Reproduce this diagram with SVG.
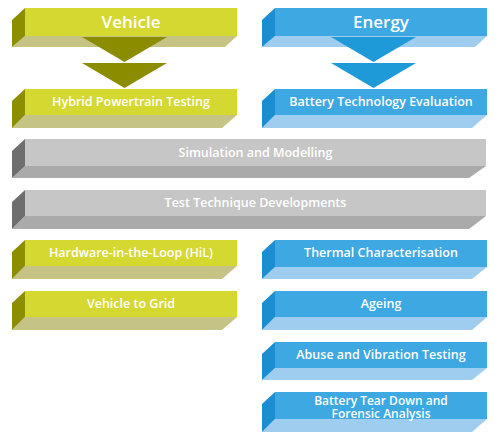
<svg xmlns="http://www.w3.org/2000/svg" width="500" height="442" viewBox="0 0 500 442">
<style>
.vf{fill:#d6d832}.vs{fill:#8d8d00}.vb{fill:#c6c485}
.ef{fill:#3ea8e2}.es{fill:#1a8ed0}.eb{fill:#9ecdf0}
.gf{fill:#c6c6c6}.gs{fill:#6e6e6e}.gb{fill:#aaaaaa}
.va{fill:#8c8c00}.ea{fill:#1e9ad8}
text{font-family:"Open Sans","Noto Sans","Liberation Sans",sans-serif;font-weight:600;fill:#ffffff;text-anchor:middle;font-size:12.5px}
.big{font-size:17px}
.two{font-size:12px}
</style>
<rect width="500" height="442" fill="#ffffff"/>
<g id="vehicle">
<polygon class="vb" points="25,36 237,36 225,47 12,47"/>
<polygon class="vs" points="25,8 12,20 12,47 25,36"/>
<rect class="vf" x="25" y="8" width="212" height="28"/>
<text class="big" x="131" y="28">Vehicle</text>
</g>
<g id="energy">
<polygon class="eb" points="275,36 487,36 475,47 262,47"/>
<polygon class="es" points="275,8 262,20 262,47 275,36"/>
<rect class="ef" x="275" y="8" width="212" height="28"/>
<text class="big" x="381" y="28">Energy</text>
</g>
<g id="connectors">
<polygon class="va" points="82,37 167,37 124.5,62"/>
<polygon class="va" points="82,63 167,63 124.5,88"/>
<polygon class="ea" points="331,37 416,37 373.5,62"/>
<polygon class="ea" points="331,63 416,63 373.5,88"/>
</g>
<g id="hybrid">
<polygon class="vb" points="25,115 237,115 222,128 12,128"/>
<polygon class="vs" points="25,89 12,101 12,128 25,115"/>
<rect class="vf" x="25" y="89" width="212" height="26"/>
<text x="131" y="106">Hybrid Powertrain Testing</text>
</g>
<g id="battery-tech">
<polygon class="eb" points="275,115 487,115 472,128 262,128"/>
<polygon class="es" points="275,89 262,101 262,128 275,115"/>
<rect class="ef" x="275" y="89" width="212" height="26"/>
<text x="381" y="106">Battery Technology Evaluation</text>
</g>
<g id="simulation">
<polygon class="gb" points="25,166 486,166 469,178 12,178"/>
<polygon class="gs" points="25,139 12,151 12,178 25,166"/>
<rect class="gf" x="25" y="139" width="461" height="27"/>
<text x="255.5" y="157">Simulation and Modelling</text>
</g>
<g id="test-technique">
<polygon class="gb" points="25,216 486,216 469,229 12,229"/>
<polygon class="gs" points="25,190 12,202 12,229 25,216"/>
<rect class="gf" x="25" y="190" width="461" height="26"/>
<text x="255.5" y="207">Test Technique Developments</text>
</g>
<g id="hil">
<polygon class="vb" points="25,266 237,266 222,279 12,279"/>
<polygon class="vs" points="25,240 12,252 12,279 25,266"/>
<rect class="vf" x="25" y="240" width="212" height="26"/>
<text x="131" y="257">Hardware-in-the-Loop (HiL)</text>
</g>
<g id="v2g">
<polygon class="vb" points="25,317 237,317 222,330 12,330"/>
<polygon class="vs" points="25,291 12,303 12,330 25,317"/>
<rect class="vf" x="25" y="291" width="212" height="26"/>
<text x="131" y="308">Vehicle to Grid</text>
</g>
<g id="thermal">
<polygon class="eb" points="275,267 487,267 472,279 262,279"/>
<polygon class="es" points="275,240 262,252 262,279 275,267"/>
<rect class="ef" x="275" y="240" width="212" height="27"/>
<text x="381" y="257">Thermal Characterisation</text>
</g>
<g id="ageing">
<polygon class="eb" points="275,317 487,317 472,330 262,330"/>
<polygon class="es" points="275,291 262,303 262,330 275,317"/>
<rect class="ef" x="275" y="291" width="212" height="26"/>
<text x="381" y="308">Ageing</text>
</g>
<g id="abuse">
<polygon class="eb" points="275,368 487,368 472,380 262,380"/>
<polygon class="es" points="275,342 262,354 262,380 275,368"/>
<rect class="ef" x="275" y="342" width="212" height="26"/>
<text x="381" y="359">Abuse and Vibration Testing</text>
</g>
<g id="teardown">
<polygon class="eb" points="275,419 487,419 472,432 262,432"/>
<polygon class="es" points="275,392 262,404 262,432 275,419"/>
<rect class="ef" x="275" y="392" width="212" height="27"/>
<text class="two" x="381" y="404.5">Battery Tear Down and<tspan x="381" dy="13.5">Forensic Analysis</tspan></text>
</g>
</svg>
